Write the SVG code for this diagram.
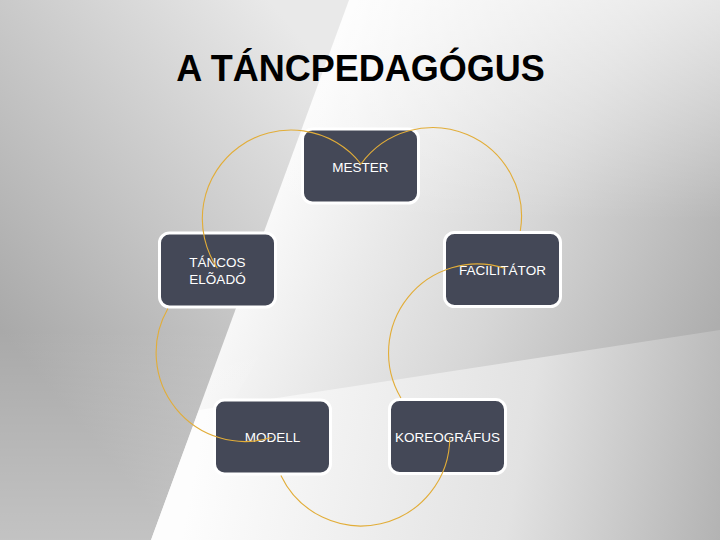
<svg xmlns="http://www.w3.org/2000/svg" width="720" height="540" viewBox="0 0 720 540">
  <defs>
    <linearGradient id="bgMain" gradientUnits="userSpaceOnUse" x1="300" y1="120" x2="720" y2="320">
      <stop offset="0" stop-color="#fbfbfb"/>
      <stop offset="0.55" stop-color="#d6d6d6"/>
      <stop offset="1" stop-color="#aeaeae"/>
    </linearGradient>
    <linearGradient id="bgTop" gradientUnits="userSpaceOnUse" x1="0" y1="0" x2="0" y2="220">
      <stop offset="0" stop-color="#ffffff" stop-opacity="0.55"/>
      <stop offset="1" stop-color="#ffffff" stop-opacity="0"/>
    </linearGradient>
    <linearGradient id="bgLeft" gradientUnits="userSpaceOnUse" x1="320" y1="60" x2="0" y2="330">
      <stop offset="0" stop-color="#e9e9e9"/>
      <stop offset="1" stop-color="#a9a9a9"/>
    </linearGradient>
    <linearGradient id="bgLeftBottom" gradientUnits="userSpaceOnUse" x1="0" y1="330" x2="0" y2="540">
      <stop offset="0" stop-color="#ffffff" stop-opacity="0"/>
      <stop offset="1" stop-color="#ffffff" stop-opacity="0.3"/>
    </linearGradient>
    <linearGradient id="bgBottom" gradientUnits="userSpaceOnUse" x1="200" y1="440" x2="720" y2="540">
      <stop offset="0" stop-color="#fdfdfd"/>
      <stop offset="0.6" stop-color="#e2e2e2"/>
      <stop offset="1" stop-color="#b3b3b3"/>
    </linearGradient>
    <style>
      .box { fill: #444857; stroke: #ffffff; stroke-width: 3; }
      .lbl { font-family: "Liberation Sans", Arial, sans-serif; font-size: 13.5px; fill: #ffffff; text-anchor: middle; }
      .arc { fill: none; stroke: #e2ad38; stroke-width: 1.1; }
      .title { font-family: "Liberation Sans", Arial, sans-serif; font-size: 36px; font-weight: bold; fill: #000000; text-anchor: middle; }
    </style>
  </defs>

  <g id="background">
    <rect x="0" y="0" width="720" height="540" fill="url(#bgMain)"/>
    <rect x="0" y="0" width="720" height="540" fill="url(#bgTop)"/>
    <polygon points="0,0 349,0 151,540 0,540" fill="url(#bgLeft)"/>
    <polygon points="0,330 275,330 151,540 0,540" fill="url(#bgLeftBottom)"/>
    <polygon points="199,410 720,330 720,540 151,540" fill="url(#bgBottom)"/>
  </g>

  <text id="title" class="title" x="360.5" y="81">A TÁNCPEDAGÓGUS</text>

  <g id="node-mester">
    <rect class="box" x="302.5" y="129" width="116" height="74" rx="10"/>
    <text class="lbl" x="360.5" y="172">MESTER</text>
  </g>
  <g id="node-facilitator">
    <rect class="box" x="444.5" y="232.5" width="116" height="74" rx="10"/>
    <text class="lbl" x="502.5" y="275">FACILITÁTOR</text>
  </g>
  <g id="node-koreografus">
    <rect class="box" x="389.5" y="399.5" width="116" height="74" rx="10"/>
    <text class="lbl" x="447.5" y="442">KOREOGRÁFUS</text>
  </g>
  <g id="node-modell">
    <rect class="box" x="214.5" y="400" width="116" height="74" rx="10"/>
    <text class="lbl" x="272.5" y="441.5">MODELL</text>
  </g>
  <g id="node-tancos">
    <rect class="box" x="159.5" y="233" width="116" height="74" rx="10"/>
    <text class="lbl" x="217.5" y="266.5">TÁNCOS</text>
    <text class="lbl" x="217.5" y="284.3">ELÕADÓ</text>
  </g>

  <g id="connectors">
    <path class="arc" d="M 361 164 A 88.8 88.8 0 0 1 520.3 231"/>
    <path class="arc" d="M 504.6 268.3 A 88.8 88.8 0 0 0 400.9 398"/>
    <path class="arc" d="M 449.8 437.2 A 88.8 88.8 0 0 1 280.9 475.5"/>
    <path class="arc" d="M 272.2 437.2 A 88.8 88.8 0 0 1 167.9 308.5"/>
    <path class="arc" d="M 217.4 268.3 A 88.8 88.8 0 0 1 361 164"/>
  </g>
</svg>
